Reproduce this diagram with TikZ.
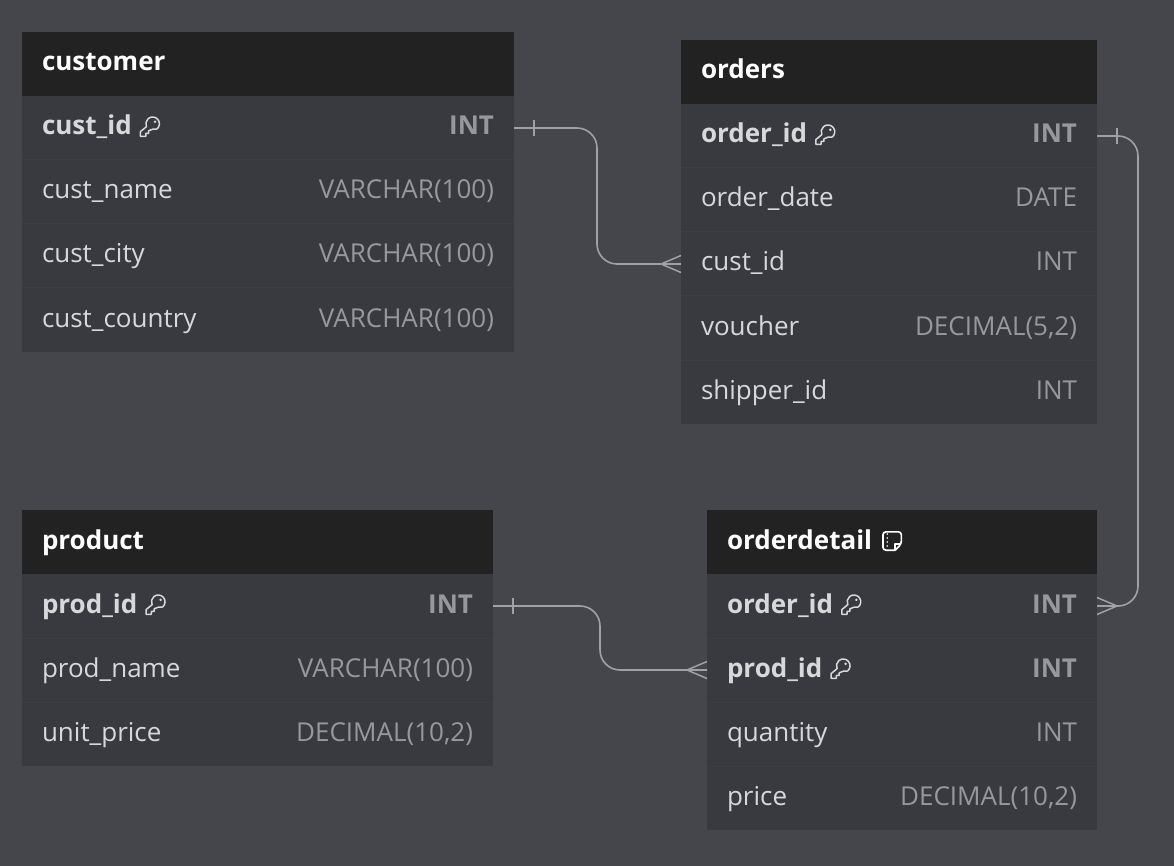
\documentclass[tikz,border=0pt]{standalone}
\usepackage{fontspec}
\setmainfont{Open Sans}
\usepackage{xcolor}
\usetikzlibrary{arrows.meta,positioning}
\definecolor{canvas}{HTML}{45464C}
\definecolor{headbar}{HTML}{222222}
\definecolor{rowbg}{HTML}{393A40}
\definecolor{rowsep}{HTML}{3D3E44}
\definecolor{fieldtxt}{HTML}{D8D8DB}
\definecolor{typetxt}{HTML}{98989C}
\definecolor{link}{HTML}{A0A0A5}
\newcommand{\keyicon}{\hspace{8pt}\tikz[baseline=2pt,x=1pt,y=1pt,line width=1.5pt,line join=round]{
  \draw (17.2,8) arc (-50:205:6.8) -- (0.7,5.4) -- (0.7,0.7) -- (6,0.7) -- (6,3.6) -- (8.8,3.6) -- (8.8,6.2) .. controls (11.5,7.4) and (14.5,8.8) .. (17.2,8);
  \fill (15.2,15.2) circle (1.4);}}
\newcommand{\noteicon}{\hspace{10pt}\tikz[baseline=2pt,x=1pt,y=1pt,line width=1.6pt,line join=round]{
  \draw[rounded corners=3pt] (13,0.8) -- (0.8,0.8) -- (0.8,19.2) -- (19.2,19.2) -- (19.2,7) -- (13,0.8);
  \draw (13,0.8) -- (13,7) -- (19.2,7);
  \foreach \doty in {5,9,13,17} \fill (5,\doty) circle (0.9);}}
\newcommand{\pkrow}[2]{\textbf{#1}\keyicon\hfill\textcolor{typetxt}{\textbf{#2}}}
\newcommand{\plainrow}[2]{#1\hfill\textcolor{typetxt}{#2}}
\begin{document}
\begin{tikzpicture}[x=1pt,y=-1pt,
  tablehead/.style={fill=headbar, text=white, font=\fontsize{26}{30}\selectfont\bfseries, anchor=north west, minimum height=64pt, inner xsep=20pt, inner ysep=0pt, outer sep=0pt, text height=19pt, text depth=5pt},
  rowbox/.style={fill=rowbg, text=fieldtxt, font=\fontsize{26}{30}\selectfont, minimum height=64pt, inner xsep=20pt, inner ysep=0pt, outer sep=0pt, text height=19pt, text depth=5pt},
  rowline/.style={draw=rowsep, line width=1pt},
  rel/.style={draw=link, line width=1.6pt, rounded corners=20pt},
  foot/.style={draw=link, line width=1.5pt}
]
\fill[canvas] (0,0) rectangle (1174,866);
\useasboundingbox (0,0) rectangle (1174,866);

% customer
\begin{scope}[nodes={text width=452pt}]
\node[tablehead] (customer) at (22,32) {customer};
\node[rowbox, below=0pt of customer] (cust_id) {\pkrow{cust\_id}{INT}};
\node[rowbox, below=0pt of cust_id] (cust_name) {\plainrow{cust\_name}{VARCHAR(100)}};
\node[rowbox, below=0pt of cust_name] (cust_city) {\plainrow{cust\_city}{VARCHAR(100)}};
\node[rowbox, below=0pt of cust_city] (cust_country) {\plainrow{cust\_country}{VARCHAR(100)}};
\end{scope}

% orders
\begin{scope}[nodes={text width=376pt}]
\node[tablehead] (orders) at (681,40) {orders};
\node[rowbox, below=0pt of orders] (ord_id) {\pkrow{order\_id}{INT}};
\node[rowbox, below=0pt of ord_id] (ord_date) {\plainrow{order\_date}{DATE}};
\node[rowbox, below=0pt of ord_date] (ord_cust) {\plainrow{cust\_id}{INT}};
\node[rowbox, below=0pt of ord_cust] (ord_voucher) {\plainrow{voucher}{DECIMAL(5,2)}};
\node[rowbox, below=0pt of ord_voucher] (ord_shipper) {\plainrow{shipper\_id}{INT}};
\end{scope}

% product
\begin{scope}[nodes={text width=431pt}]
\node[tablehead] (product) at (22,510) {product};
\node[rowbox, below=0pt of product] (prod_id) {\pkrow{prod\_id}{INT}};
\node[rowbox, below=0pt of prod_id] (prod_name) {\plainrow{prod\_name}{VARCHAR(100)}};
\node[rowbox, below=0pt of prod_name] (prod_price) {\plainrow{unit\_price}{DECIMAL(10,2)}};
\end{scope}

% orderdetail
\begin{scope}[nodes={text width=350pt}]
\node[tablehead] (orderdetail) at (707,510) {orderdetail\noteicon};
\node[rowbox, below=0pt of orderdetail] (det_order) {\pkrow{order\_id}{INT}};
\node[rowbox, below=0pt of det_order] (det_prod) {\pkrow{prod\_id}{INT}};
\node[rowbox, below=0pt of det_prod] (det_qty) {\plainrow{quantity}{INT}};
\node[rowbox, below=0pt of det_qty] (det_price) {\plainrow{price}{DECIMAL(10,2)}};
\end{scope}

\foreach \rowname in {cust_id,cust_name,cust_city,ord_id,ord_date,ord_cust,ord_voucher,prod_id,prod_name,det_order,det_prod,det_qty}
  \draw[rowline] (\rowname.south west) -- (\rowname.south east);

% links
\coordinate (bendA) at (597,200);
\coordinate (bendB) at (1138,370);
\coordinate (bendC) at (600,640);
\draw[rel] (cust_id.east) -- (cust_id.east -| bendA) -- (bendA |- ord_cust.west) -- (ord_cust.west);
\draw[rel] (ord_id.east) -- (ord_id.east -| bendB) -- (bendB |- det_order.east) -- (det_order.east);
\draw[rel] (prod_id.east) -- (prod_id.east -| bendC) -- (bendC |- det_prod.west) -- (det_prod.west);

% one side ticks
\foreach \rowname in {cust_id,ord_id,prod_id}
  \draw[foot] ([xshift=20pt,yshift=8pt]\rowname.east) -- ([xshift=20pt,yshift=-8pt]\rowname.east);

% many side feet
\foreach \rowname/\rowside/\footdir in {ord_cust/west/-20,det_prod/west/-20,det_order/east/20} {
  \draw[foot] ([xshift=\footdir pt]\rowname.\rowside) -- ([yshift=8.5pt]\rowname.\rowside);
  \draw[foot] ([xshift=\footdir pt]\rowname.\rowside) -- ([yshift=-8.5pt]\rowname.\rowside);
}
\end{tikzpicture}
\end{document}
